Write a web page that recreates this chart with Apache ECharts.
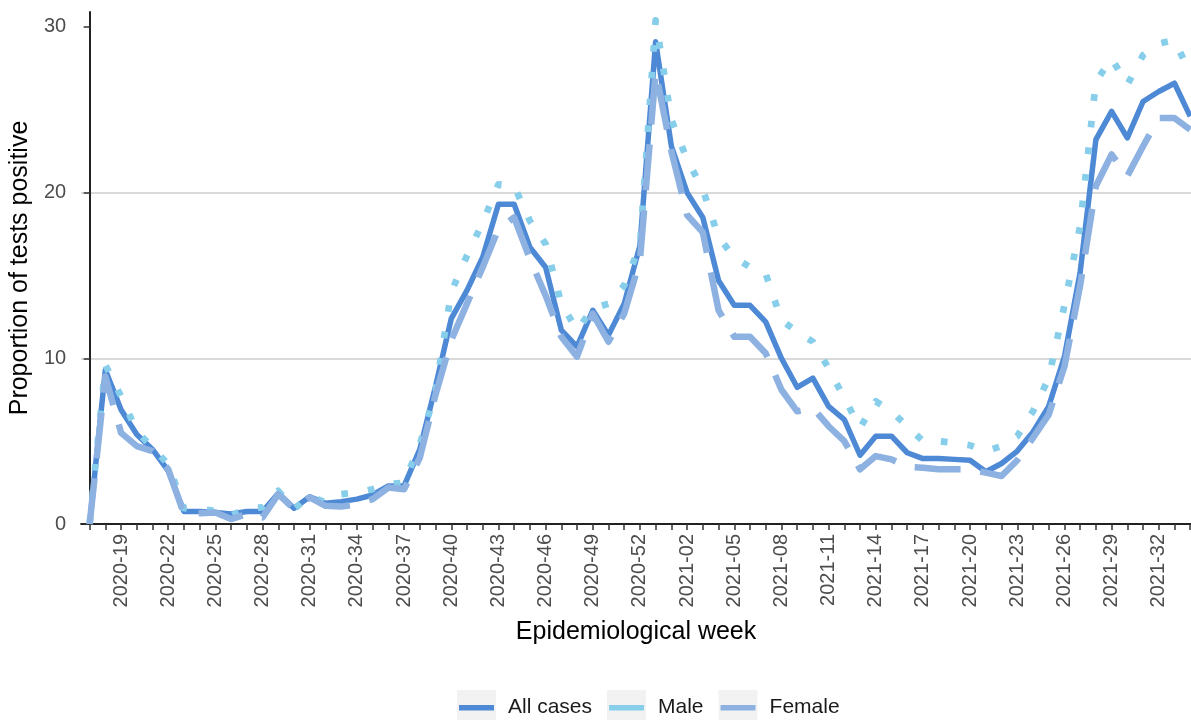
<!DOCTYPE html>
<html>
<head>
<meta charset="utf-8">
<title>Proportion of tests positive</title>
<script src="https://cdn.jsdelivr.net/npm/echarts@6/dist/echarts.min.js"></script>
<style>
  html, body { margin: 0; padding: 0; background: #fff; }
  #main { width: 1191px; height: 720px; }
</style>
</head>
<body>
<div id="main"></div>
<script>
// epidemiological weeks (x axis categories)
var weeks = [
  '2020-17','2020-18','2020-19','2020-20','2020-21','2020-22','2020-23','2020-24','2020-25','2020-26',
  '2020-27','2020-28','2020-29','2020-30','2020-31','2020-32','2020-33','2020-34','2020-35','2020-36',
  '2020-37','2020-38','2020-39','2020-40','2020-41','2020-42','2020-43','2020-44','2020-45','2020-46',
  '2020-47','2020-48','2020-49','2020-50','2020-51','2020-52','2020-53','2021-01','2021-02','2021-03',
  '2021-04','2021-05','2021-06','2021-07','2021-08','2021-09','2021-10','2021-11','2021-12','2021-13',
  '2021-14','2021-15','2021-16','2021-17','2021-18','2021-19','2021-20','2021-21','2021-22','2021-23',
  '2021-24','2021-25','2021-26','2021-27','2021-28','2021-29','2021-30','2021-31','2021-32','2021-33',
  '2021-34'
];

// weeks that carry a tick label
var labelWeeks = [
  '2020-19','2020-22','2020-25','2020-28','2020-31','2020-34','2020-37','2020-40','2020-43','2020-46',
  '2020-49','2020-52','2021-02','2021-05','2021-08','2021-11','2021-14','2021-17','2021-20','2021-23',
  '2021-26','2021-29','2021-32'
];

var yTicks = [0, 10, 20, 30];
var seriesNames = ['All cases', 'Male', 'Female'];

// proportion of tests positive (%)
var allCases = [
  0, 9.3, 6.9, 5.4, 4.5, 3.2, 0.75, 0.75, 0.7, 0.6,
  0.75, 0.75, 1.85, 0.95, 1.65, 1.25, 1.35, 1.5, 1.75, 2.3,
  2.3, 4.5, 8.3, 12.4, 14.1, 16.1, 19.3, 19.3, 16.7, 15.5,
  11.7, 10.7, 12.9, 11.4, 13.3, 16.8, 29.1, 22.8, 20.0, 18.5,
  14.7, 13.2, 13.2, 12.2, 10.0, 8.25, 8.8, 7.1, 6.3, 4.15,
  5.3, 5.3, 4.3, 3.95, 3.95, 3.9, 3.85, 3.15, 3.65, 4.4,
  5.55, 7.1, 10.1, 15.2, 23.2, 24.9, 23.3, 25.5, 26.1, 26.6, 24.6
];
var male = [
  0, 9.6, 7.7, 5.6, 4.6, 3.6, 0.95, 0.9, 0.8, 0.5,
  0.95, 1.0, 2.0, 0.9, 1.7, 1.3, 1.8, 1.9, 2.1, 2.4,
  2.5, 4.8, 8.0, 14.0, 16.2, 18.2, 20.5, 20.4, 18.3, 16.9,
  13.3, 11.7, 13.0, 13.3, 14.4, 16.8, 30.4, 24.4, 22.0, 20.2,
  17.3, 16.1, 15.5, 15.1, 12.3, 11.6, 11.0, 9.4, 7.6, 5.8,
  7.4, 6.8, 5.9, 5.0, 5.0, 4.9, 4.75, 4.4, 4.7, 5.3,
  6.8, 8.8, 13.2, 18.0, 26.7, 28.1, 26.5, 28.3, 29.0, 29.2, 27.2
];
var female = [
  0, 8.9, 5.5, 4.7, 4.4, 3.3, 0.6, 0.65, 0.7, 0.3,
  0.6, 0.4, 1.8, 0.9, 1.6, 1.1, 1.05, 1.2, 1.5, 2.2,
  2.1, 4.0, 7.8, 11.1, 13.3, 15.5, 17.8, 18.5, 16.0, 13.8,
  11.3, 10.1, 12.7, 11.0, 12.7, 15.9, 27.3, 22.5, 18.65, 17.6,
  12.9, 11.3, 11.3, 10.3, 8.1, 6.8, 7.0, 5.9, 5.0, 3.3,
  4.1, 3.9, 3.45, 3.4, 3.3, 3.3, 3.3, 3.1, 2.9, 3.85,
  5.2, 6.6, 9.5, 14.4, 20.4, 22.3, 21.0, 22.8, 24.5, 24.5, 23.8
];

var colors = ['#4E89D6', '#87CEEB', '#8DB2E2'];
var font = "'Liberation Sans', Arial, sans-serif";

function toPoints(values) {
  return values.map(function (v, i) { return [i, v]; });
}

var tickIdx = weeks.map(function (w, i) { return i; });
var labelIdx = labelWeeks.map(function (w) { return weeks.indexOf(w); });

var chart = echarts.init(document.getElementById('main'));

var legendBase = {
  left: 452,
  top: 685,
  itemWidth: 39,
  itemHeight: 34,
  itemGap: 15,
  data: seriesNames,
  textStyle: { fontFamily: font, fontSize: 21, padding: [0, 0, 0, 7] }
};

chart.setOption({
  animation: false,
  backgroundColor: '#ffffff',
  color: colors,
  grid: { left: 80, right: 0, top: 12, bottom: 196 },
  legend: [
    // grey key boxes behind
    echarts.util.merge({
      z: 1,
      icon: 'rect',
      itemStyle: { color: '#F2F2F2', borderWidth: 0 },
      textStyle: { color: 'rgba(0,0,0,0)' }
    }, legendBase, false),
    // coloured line keys on top
    echarts.util.merge({
      z: 2,
      icon: 'path://M0,0M39,34M2,15L37,15L37,20.5L2,20.5Z',
      itemStyle: { borderWidth: 0 },
      textStyle: { color: '#1A1A1A' }
    }, legendBase, false)
  ],
  xAxis: {
    type: 'value',
    min: -0.54,
    max: 70.05,
    name: 'Epidemiological week',
    nameLocation: 'middle',
    nameGap: 96,
    nameTextStyle: { fontFamily: font, fontSize: 25, color: '#000' },
    axisLine: { show: true, onZero: false, lineStyle: { color: '#222', width: 2 } },
    axisTick: { show: true, customValues: tickIdx, length: 6, lineStyle: { color: '#333', width: 1.5 } },
    axisLabel: {
      customValues: labelIdx,
      rotate: 90,
      margin: 10,
      fontFamily: font,
      fontSize: 20,
      color: '#4D4D4D',
      formatter: function (v) { return weeks[Math.round(v)]; }
    },
    splitLine: { show: false }
  },
  yAxis: {
    type: 'value',
    min: 0,
    max: 30.9,
    interval: 10,
    name: 'Proportion of tests positive',
    nameLocation: 'middle',
    nameGap: 44,
    nameTextStyle: { fontFamily: font, fontSize: 25, color: '#000' },
    axisLine: { show: true, lineStyle: { color: '#222', width: 2 } },
    axisTick: { show: true, customValues: yTicks, length: 6, lineStyle: { color: '#333', width: 1.5 } },
    axisLabel: {
      customValues: yTicks,
      margin: 15,
      fontFamily: font,
      fontSize: 20,
      color: '#4D4D4D'
    },
    splitLine: { show: true, showMinLine: false, showMaxLine: false, lineStyle: { color: '#CCCCCC', width: 1.6 } }
  },
  series: [
    {
      name: seriesNames[0],
      type: 'line',
      data: toPoints(allCases),
      showSymbol: false,
      itemStyle: { color: colors[0] },
      lineStyle: { color: colors[0], width: 5.5, join: 'round' }
    },
    {
      name: seriesNames[1],
      type: 'line',
      data: toPoints(male),
      showSymbol: false,
      itemStyle: { color: colors[1] },
      lineStyle: { color: colors[1], width: 6.7, type: [6.7, 20.1], cap: 'butt', join: 'round' }
    },
    {
      name: seriesNames[2],
      type: 'line',
      data: toPoints(female),
      showSymbol: false,
      itemStyle: { color: colors[2] },
      lineStyle: { color: colors[2], width: 6.5, type: [46, 20], cap: 'butt', join: 'round' }
    }
  ]
});
</script>
</body>
</html>
